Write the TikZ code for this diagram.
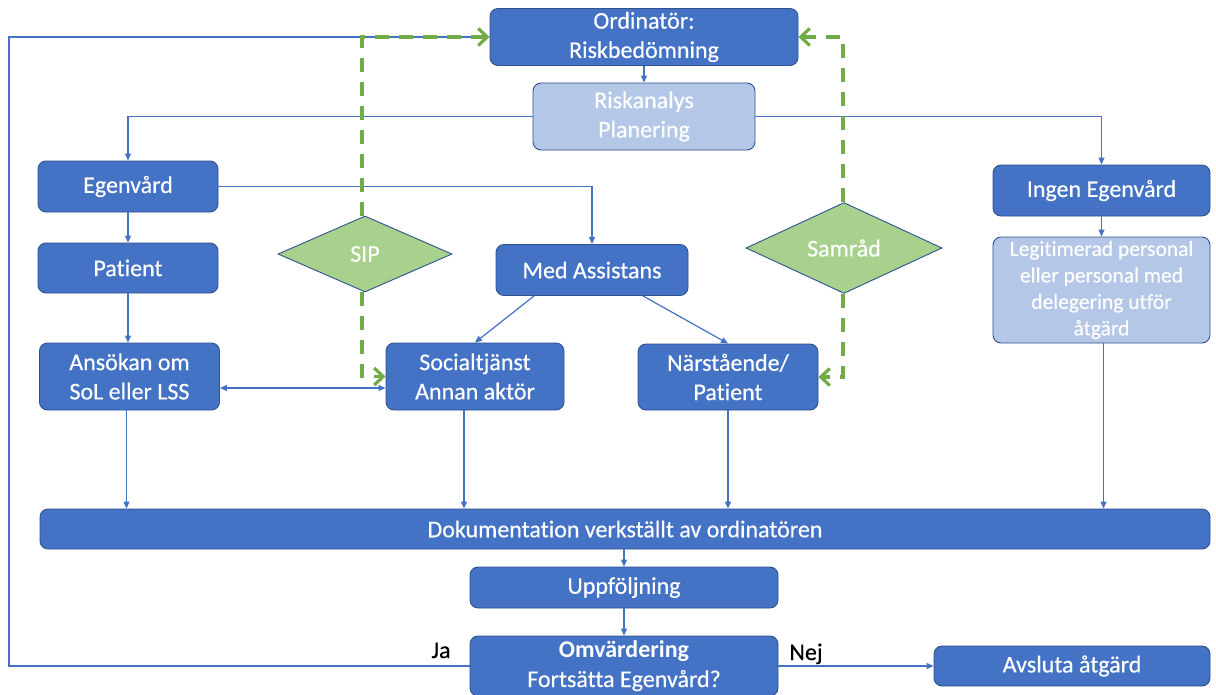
\documentclass[tikz,border=0pt]{standalone}
\usepackage{fontspec}
\setmainfont{Carlito}[Ligatures={NoCommon,NoContextual}, Contextuals=NoAlternate, FakeBold=0.35, BoldFeatures={FakeBold=0}]
\usetikzlibrary{arrows.meta,shapes.geometric}

\definecolor{boxblue}{HTML}{4472C4}
\definecolor{boxedge}{HTML}{2F528F}
\definecolor{paleblue}{HTML}{B4C7E7}
\definecolor{palegreen}{HTML}{A9D18E}
\definecolor{linkgreen}{HTML}{70AD47}

\tikzset{
  box/.style={draw=boxedge, line width=0.9pt, fill=boxblue, rounded corners=8pt,
    text=white, align=center, inner sep=0pt,
    font=\fontsize{24}{29.3}\selectfont},
  palebox/.style={box, fill=paleblue},
  choice/.style={diamond, draw=boxedge, line width=0.9pt, fill=palegreen,
    text=white, inner sep=0pt, font=\fontsize{24}{29.3}\selectfont},
  link/.style={draw=boxblue, line width=1.2pt,
    -{Triangle[length=7pt,width=6pt]}},
  twoway/.style={draw=boxblue, line width=1.2pt,
    {Triangle[length=7pt,width=6pt]}-{Triangle[length=7pt,width=6pt]}},
  consult/.style={draw=linkgreen, line width=3.2pt,
    dash pattern=on 14pt off 10pt,
    -{Straight Barb[length=9pt,width=17pt]}},
  answer/.style={text=black, inner sep=0pt, anchor=base,
    font=\fontsize{24}{29.3}\selectfont}
}

\begin{document}
\begin{tikzpicture}[x=1pt,y=-1pt]
\clip (0,0) rectangle (1216,694);
\fill[white] (0,0) rectangle (1216,694);

% top: assessment and planning
\node[box, minimum width=308pt, minimum height=57pt] (ord) at (644,37) {Ordinatör:\\Riskbedömning};
\node[palebox, minimum width=222pt, minimum height=67pt] (risk) at (644,116.5) {Riskanalys\\Planering};

% left branch: self care
\node[box, minimum width=180pt, minimum height=51pt] (ego) at (128,186.5) {Egenvård};
\node[box, minimum width=180pt, minimum height=50pt] (pat) at (128,268) {Patient};
\node[box, minimum width=180pt, minimum height=67pt] (ans) at (129.5,376.5) {Ansökan om\\SoL eller LSS};
\node[box, minimum width=192pt, minimum height=51pt] (med) at (592,270) {Med Assistans};
\node[box, minimum width=178pt, minimum height=67pt] (soc) at (475,376.5) {Socialtjänst\\Annan aktör};
\node[box, minimum width=180pt, minimum height=66pt] (nar) at (728,377) {Närstående/\\Patient};

% decisions
\node[choice, minimum width=174pt, minimum height=76pt] (sip) at (365,254) {SIP};
\node[choice, minimum width=196pt, minimum height=84pt] (sam) at (844,248) {Samråd};

% right branch: no self care
\node[box, minimum width=217pt, minimum height=51pt] (ingen) at (1101.5,190.5) {Ingen Egenvård};
\node[palebox, minimum width=217pt, minimum height=106pt, font=\fontsize{21.5}{26.5}\selectfont] (leg) at (1101.5,290)
  {Legitimerad personal\\eller personal med\\delegering utför\\åtgärd};

% bottom: documentation and follow-up
\node[box, minimum width=1170pt, minimum height=40pt] (dok) at (625,529) {Dokumentation verkställt av ordinatören};
\node[box, minimum width=308pt, minimum height=41pt] (upp) at (624,587.5) {Uppföljning};
\node[box, minimum width=308pt, minimum height=60pt] (omv) at (624,666) {{\bfseries Omvärdering}\\Fortsätta Egenvård?};
\node[box, minimum width=276pt, minimum height=40pt] (avs) at (1072,666) {Avsluta åtgärd};

\node[answer] (ja) at (441,658) {Ja};
\node[answer] (nej) at (806,660) {Nej};

\coordinate (loop) at (9,666);

% flow connectors
\draw[link] (ord) -- (risk);
\draw[link] (risk.west) -| (ego.north);
\draw[link] (risk.east) -| (ingen.north);
\draw[link] (ego.east) -| (med.north);
\draw[link] (ego) -- (pat);
\draw[link] (pat.south) -- (pat.south |- ans.north);
\draw[twoway] ([yshift=-11.5pt]ans.east) -- ([yshift=-11.5pt]ans.east -| soc.west);
\draw[link] ([xshift=-58pt]med.south) -- (soc.north);
\draw[link] ([xshift=51pt]med.south) -- (nar.north);
\draw[link] (ingen) -- (leg);
\draw[link] ([xshift=-3pt]ans.south) -- ([xshift=-3pt]ans.south |- dok.north);
\draw[link] ([xshift=-11pt]soc.south) -- ([xshift=-11pt]soc.south |- dok.north);
\draw[link] (nar.south) -- (nar.south |- dok.north);
\draw[link] ([xshift=2pt]leg.south) -- ([xshift=2pt]leg.south |- dok.north);
\draw[link] (dok.south -| upp.north) -- (upp.north);
\draw[link] (upp) -- (omv);
\draw[link] (omv.east) -- (avs.west);
\draw[link] (omv.west) -- (omv.west -| loop) |- (ord.west);

% consultation links
\draw[consult] ([xshift=-3pt]sip.north) |- (ord.west);
\draw[consult] ([xshift=-3pt]sip.south) |- (soc.west);
\draw[consult] ([xshift=-1pt]sam.north) |- (ord.east);
\draw[consult] ([xshift=-1pt]sam.south) |- (nar.east);
\end{tikzpicture}
\end{document}
